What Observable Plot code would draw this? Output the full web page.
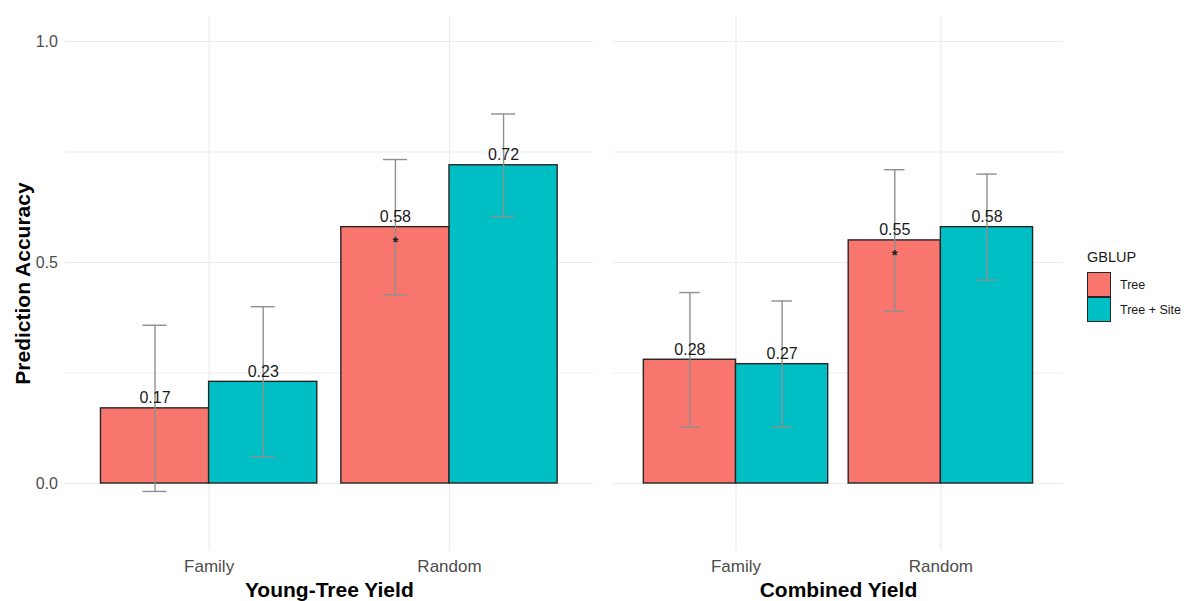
<!DOCTYPE html>
<html>
<head>
<meta charset="utf-8">
<script src="https://cdn.jsdelivr.net/npm/d3@7"></script>
<script src="https://cdn.jsdelivr.net/npm/@observablehq/plot@0.6"></script>
<style>
  html, body { margin: 0; padding: 0; background: #ffffff; }
  #wrap { position: relative; width: 1184px; height: 601px; overflow: hidden; font-family: "Liberation Sans", Arial, sans-serif; }
  #left { position: absolute; left: 0; top: 0; }
  #right { position: absolute; left: 600px; top: 0; }
  #legend { position: absolute; left: 1087px; top: 249px; color: #1a1a1a; }
  #legend .title { font-size: 14.5px; margin-bottom: 7px; }
  #legend .row { display: flex; align-items: center; height: 25px; }
  #legend .key { width: 22px; height: 23px; border: 1.5px solid #262626; box-sizing: content-box; margin-right: 9px; }
  #legend .row + .row .key { border-top-width: 0.5px; }
  #legend .lab { font-size: 12.5px; }
</style>
</head>
<body>
<div id="wrap">
  <div id="left"></div>
  <div id="right"></div>
  <div id="legend"></div>
</div>
<script>
// ---------- data ----------
const panels = ["Young-Tree Yield", "Combined Yield"];
const categories = ["Family", "Random"];
const groups = ["Tree", "Tree + Site"];
const groupColors = ["#F8766D", "#00BFC4"];

// Young-Tree Yield (Family, Random)
const youngTree = [0.17, 0.58];
const youngTreeSite = [0.23, 0.72];
const youngTreeErr = [0.188, 0.153];
const youngTreeSiteErr = [0.17, 0.116];
const youngStars = ["", "*"];

// Combined Yield (Family, Random)
const combinedTree = [0.28, 0.55];
const combinedTreeSite = [0.27, 0.58];
const combinedTreeErr = [0.152, 0.16];
const combinedTreeSiteErr = [0.143, 0.12];
const combinedStars = ["", "*"];

const yTicks = [0, 0.5, 1.0];
const yMinorTicks = [0.25, 0.75];
const yLabel = "Prediction Accuracy";

// ---------- build rows ----------
function buildRows(treeVals, siteVals, treeErr, siteErr, stars) {
  const out = [];
  categories.forEach((cat, ci) => {
    [[treeVals, treeErr], [siteVals, siteErr]].forEach(([vals, errs], gi) => {
      out.push({
        category: cat,
        group: groups[gi],
        pos: ci + 1,          // category position on the axis
        slot: gi,             // dodge slot
        value: vals[ci],
        err: errs[ci],
        star: gi === 0 ? stars[ci] : ""
      });
    });
  });
  return out;
}

const BAR_W = 0.9;                 // total dodge width per category
const HALF = BAR_W / 2;
const CAP = 0.05;
const x1 = d => d.pos - HALF + d.slot * HALF;
const x2 = d => d.pos + d.slot * HALF;
const xc = d => d.pos - HALF / 2 + d.slot * HALF;
const lo = d => d.value - d.err;
const hi = d => d.value + d.err;

const FONT = "'Liberation Sans', Arial, sans-serif";
const GRID = "#ebebeb";
const AXIS_TEXT = "#4d4d4d";

function panel({rows, title, width, marginLeft, marginRight, showY}) {
  return Plot.plot({
    width,
    height: 601,
    marginTop: 16,
    marginBottom: 51,
    marginLeft,
    marginRight,
    style: {fontFamily: FONT, background: "transparent", overflow: "visible"},
    x: {domain: [0.4, 2.6]},
    y: {domain: [-0.1516, 1.0566], axis: showY ? undefined : null},
    color: {domain: groups, range: groupColors},
    marks: [
      Plot.gridY(yMinorTicks, {stroke: GRID, strokeOpacity: 1, strokeWidth: 0.9}),
      Plot.gridY(yTicks, {stroke: GRID, strokeOpacity: 1, strokeWidth: 1.2}),
      Plot.gridX([1, 2], {stroke: GRID, strokeOpacity: 1, strokeWidth: 1.2}),
      showY ? Plot.axisY(yTicks, {tickSize: 0, tickPadding: 7, fontSize: 16, color: AXIS_TEXT, tickFormat: d3.format(".1f"), label: null}) : null,
      Plot.axisX([1, 2], {tickSize: 0, tickPadding: 9, fontSize: 17, color: AXIS_TEXT, tickFormat: d => categories[d - 1], label: null}),
      Plot.rectY(rows, {x1, x2, y1: 0, y2: "value", fill: "group", stroke: "#262626", strokeWidth: 1.4}),
      Plot.ruleX(rows, {x: xc, y1: lo, y2: hi, stroke: "#8f8f8f", strokeWidth: 1.4}),
      Plot.ruleY(rows, {y: lo, x1: d => xc(d) - CAP, x2: d => xc(d) + CAP, stroke: "#8f8f8f", strokeWidth: 1.4}),
      Plot.ruleY(rows, {y: hi, x1: d => xc(d) - CAP, x2: d => xc(d) + CAP, stroke: "#8f8f8f", strokeWidth: 1.4}),
      Plot.text(rows, {x: xc, y: "value", text: d => d3.format(".2f")(d.value), lineAnchor: "bottom", dy: -5, fontSize: 16, fill: "#1a1a1a"}),
      Plot.text(rows.filter(d => d.star), {x: xc, y: "value", text: "star", lineAnchor: "middle", dy: 15, fontSize: 15, fontWeight: "bold", fill: "#1a1a1a"}),
      Plot.text([title], {frameAnchor: "bottom", textAnchor: "middle", lineAnchor: "bottom", dy: 46, fontSize: 21, fontWeight: "bold", fill: "#000"}),
      showY ? Plot.text([yLabel], {frameAnchor: "left", textAnchor: "middle", lineAnchor: "middle", rotate: -90, dx: -42, fontSize: 21, fontWeight: "bold", fill: "#000"}) : null
    ]
  });
}

const youngRows = buildRows(youngTree, youngTreeSite, youngTreeErr, youngTreeSiteErr, youngStars);
const combinedRows = buildRows(combinedTree, combinedTreeSite, combinedTreeErr, combinedTreeSiteErr, combinedStars);

document.getElementById("left").append(panel({rows: youngRows, title: panels[0], width: 600, marginLeft: 64.4, marginRight: 6.8, showY: true}));
document.getElementById("right").append(panel({rows: combinedRows, title: panels[1], width: 475, marginLeft: 12.6, marginRight: 11.7, showY: false}));

// ---------- legend ----------
const legend = document.getElementById("legend");
const t = document.createElement("div");
t.className = "title";
t.textContent = "GBLUP";
legend.append(t);
groups.forEach((g, i) => {
  const row = document.createElement("div");
  row.className = "row";
  const key = document.createElement("div");
  key.className = "key";
  key.style.background = groupColors[i];
  const lab = document.createElement("span");
  lab.className = "lab";
  lab.textContent = g;
  row.append(key, lab);
  legend.append(row);
});
</script>
</body>
</html>
